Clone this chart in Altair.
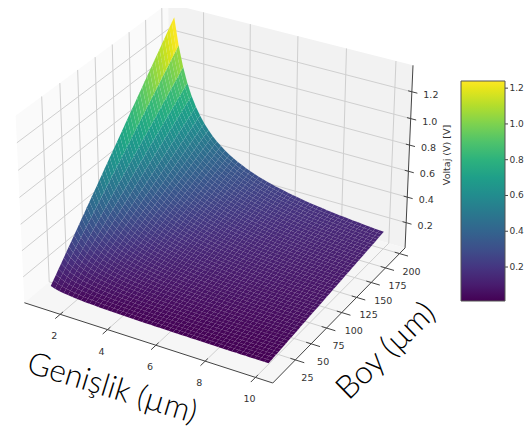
import numpy as np
import altair as alt

# ---- values ----
widths = [1.00,1.18,1.37,1.55,1.73,1.92,2.10,2.29,2.47,2.65,2.84,3.02,3.20,3.39,3.57,3.76,3.94,4.12,4.31,4.49,4.67,4.86,5.04,5.22,5.41,5.59,5.78,5.96,6.14,6.33,6.51,6.69,6.88,7.06,7.24,7.43,7.61,7.80,7.98,8.16,8.35,8.53,8.71,8.90,9.08,9.27,9.45,9.63,9.82,10.0]
lengths = [10,13.9,17.8,21.6,25.5,29.4,33.3,37.1,41,44.9,48.8,52.7,56.5,60.4,64.3,68.2,72,75.9,79.8,83.7,87.6,91.4,95.3,99.2,103.1,106.9,110.8,114.7,118.6,122.4,126.3,130.2,134.1,138,141.8,145.7,149.6,153.5,157.3,161.2,165.1,169,172.9,176.7,180.6,184.5,188.4,192.2,196.1,200]
volt_at_max_length = [1.35,1.144,.985,.871,.78,.703,.643,.59,.547,.509,.475,.447,.422,.398,.378,.359,.343,.328,.313,.301,.289,.278,.268,.259,.25,.242,.234,.227,.22,.213,.207,.202,.196,.191,.186,.182,.177,.173,.169,.165,.162,.158,.155,.152,.149,.146,.143,.14,.137,.135]
x_ticks = [2,4,6,8,10]
y_ticks = [25,50,75,100,125,150,175,200]
z_ticks = [0.2,0.4,0.6,0.8,1.0,1.2]
cbar_ticks = [0.2,0.4,0.6,0.8,1.0,1.2]
cbar_domain = [0.01,1.24]

# axis box limits
XL = (0.46,10.68); YL = (-10.0,210.0); ZL = (0.0,1.395)
# where the box corners lie in the image (calibrates the camera)
calib = [((0,0,0),(24,303)),((1,0,0),(273,383)),((1,1,0),(405,248)),
         ((0,1,1),(168,4)),((1,1,1),(413,65)),((0,0,1),(16,115))]

# ---- matplotlib style camera ----
elev, azim, dist = np.radians(30), np.radians(-60), 10.0
aspect = np.array([4,4,3.0])*1.8294640721620434/np.linalg.norm([4,4,3.0])
R = aspect/2
w_ = np.array([np.cos(elev)*np.cos(azim),np.cos(elev)*np.sin(azim),np.sin(elev)])
E = R+dist*w_
u_ = np.cross([0,0,1.0],w_); u_/=np.linalg.norm(u_)
v_ = np.cross(w_,u_)
def cam(n):
    d = np.array(n)*aspect-E
    ez = d@w_
    return d@u_/-ez, d@v_/-ez, ez
A = np.array([[cam(c)[0],cam(c)[1],1] for c,_ in calib])
P = np.array([p for _,p in calib],float)
M,*_ = np.linalg.lstsq(A,P,rcond=None)
def unit(x,y,z):
    return ((x-XL[0])/(XL[1]-XL[0]),(y-YL[0])/(YL[1]-YL[0]),(z-ZL[0])/(ZL[1]-ZL[0]))
def proj(x,y,z):
    a,b,_ = cam(unit(x,y,z))
    q = np.array([a,b,1])@M
    return [round(float(q[0]),2),round(float(q[1]),2)]

def line(pts,**props):
    return {"type":"Feature","properties":props,"geometry":{"type":"LineString","coordinates":pts}}
def poly(pts,**props):
    return {"type":"Feature","properties":props,"geometry":{"type":"Polygon","coordinates":[pts+[pts[0]]]}}
def fc(features):
    return alt.InlineData(values={"type":"FeatureCollection","features":features},
                          format=alt.DataFormat(type="json",property="features"))
PR = dict(type="identity",scale=1,translate=[-8,-8])

x0,x1 = XL; y0,y1 = YL; z0,z1 = ZL
def pane(pts,col):
    return alt.Chart(fc([poly([proj(*p) for p in pts])])).mark_geoshape(fill=col,stroke="transparent").project(**PR)
pane_l = pane([(x0,y0,z0),(x0,y1,z0),(x0,y1,z1),(x0,y0,z1)],"#fafafa")
pane_r = pane([(x0,y1,z0),(x1,y1,z0),(x1,y1,z1),(x0,y1,z1)],"#f2f2f2")
pane_f = pane([(x0,y0,z0),(x1,y0,z0),(x1,y1,z0),(x0,y1,z0)],"#f6f6f6")

grid = []
for t in x_ticks:
    grid.append(line([proj(t,y0,z0),proj(t,y1,z0),proj(t,y1,z1)]))
for t in y_ticks:
    grid.append(line([proj(x1,t,z0),proj(x0,t,z0),proj(x0,t,z1)]))
for t in z_ticks:
    grid.append(line([proj(x0,y0,t),proj(x0,y1,t),proj(x1,y1,t)]))
grid_l = alt.Chart(fc(grid)).mark_geoshape(filled=False,stroke="#cfcfcf",strokeWidth=1).project(**PR)

axes = [line([proj(x0,y0,z0),proj(x1,y0,z0),proj(x1,y1,z0),proj(x1,y1,z1)])]
ticks = []
for t in x_ticks:
    ticks.append(line([proj(t,y0+4,z0),proj(t,y0-7,z0)]))
for t in y_ticks:
    ticks.append(line([proj(x1-.2,t,z0),proj(x1+.35,t,z0)]))
for t in z_ticks:
    ticks.append(line([proj(x1-.15,y1,t),proj(x1+.22,y1+0,t)]))
for v in cbar_ticks:
    yy = 301-(v-cbar_domain[0])*220/(cbar_domain[1]-cbar_domain[0])
    ticks.append(line([[505,yy],[508,yy]]))
axes_l = alt.Chart(fc(axes)).mark_geoshape(filled=False,stroke="#444444",strokeWidth=1).project(**PR)
ticks_l = alt.Chart(fc(ticks)).mark_geoshape(filled=False,stroke="#444444",strokeWidth=1).project(**PR)

# ---- surface ----
V = np.outer(volt_at_max_length,lengths)/200.0
cells = []
for i in range(len(widths)-1):
    for j in range(len(lengths)-1):
        xs = (widths[i],widths[i+1],widths[i+1],widths[i])
        ys = (lengths[j],lengths[j],lengths[j+1],lengths[j+1])
        zs = (V[i,j],V[i+1,j],V[i+1,j+1],V[i,j+1])
        c = (np.mean(xs),np.mean(ys),np.mean(zs))
        cells.append((cam(unit(*c))[2],poly([proj(a,b,d) for a,b,d in zip(xs,ys,zs)],v=round(float(c[2]),4))))
cells.sort(key=lambda t:t[0])
surface = alt.Chart(fc([c[1] for c in cells])).mark_geoshape().encode(
    color=alt.Color("properties.v:Q",
        scale=alt.Scale(scheme="viridis",domain=cbar_domain,clamp=True),
        legend=alt.Legend(orient="none",legendX=453,legendY=73,title=None,
            gradientLength=220,gradientThickness=44,gradientStrokeColor="#555555",gradientStrokeWidth=1,
            values=cbar_ticks,format=".1f",labelFont="DejaVu Sans",labelFontSize=9,labelColor="#333333",
            labelOffset=4.5,labelOverlap=False,gradientOpacity=1))
).project(**PR)

# ---- text ----
def labels(rows,dx,dy):
    return alt.Chart(alt.Data(values=rows)).mark_text(font="DejaVu Sans",fontSize=9.5,color="#333333",dx=dx,dy=dy,align="center",baseline="middle").encode(
        longitude="lon:Q",latitude="lat:Q",text="t:N").project(**PR)
def rows(pts,txt):
    return [{"lon":p[0],"lat":p[1],"t":s} for p,s in zip(pts,txt)]
xl = labels(rows([proj(t,y0,z0) for t in x_ticks],[str(t) for t in x_ticks]),-6,22)
yl = labels(rows([proj(x1,t,z0) for t in y_ticks],[str(t) for t in y_ticks]),12,18)
zl = labels(rows([proj(x1,y1,t) for t in z_ticks],[f"{t:.1f}" for t in z_ticks]),19,3)
def title(txt,lon,lat,angle,size,font,weight,color="#000000"):
    return alt.Chart(alt.Data(values=[{"lon":lon,"lat":lat,"t":txt}])).mark_text(font=font,fontSize=size,fontWeight=weight,angle=angle,color=color,align="center",baseline="middle").encode(
        longitude="lon:Q",latitude="lat:Q",text="t:N").project(**PR)
t1 = title("Genişlik (µm)",112,389,17,31.5,"Lato",300)
t2 = title("Boy (µm)",386,351,316,32,"Lato",300)
t3 = title("Voltaj (V) [V]",447,155,270,9.5,"DejaVu Sans",400,"#333333")

chart = alt.layer(pane_l,pane_r,pane_f,grid_l,axes_l,ticks_l,surface,xl,yl,zl,t1,t2,t3).properties(
    width=516,height=421,padding=0,autosize=alt.AutoSizeParams(type="none"),background="white"
).configure_view(stroke=None)
chart.save("out.html",embed_options={"renderer":"svg","actions":False})
